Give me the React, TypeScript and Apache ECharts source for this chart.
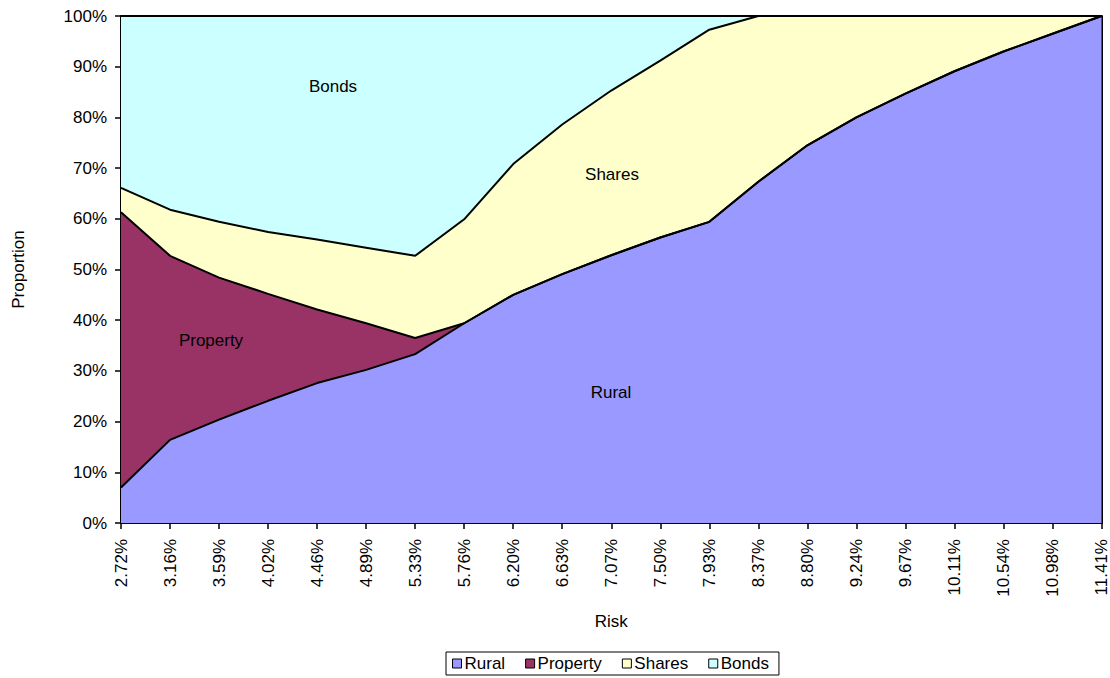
import React, { useEffect, useRef } from "react";
import * as echarts from "echarts";

const categories = ["2.72%", "3.16%", "3.59%", "4.02%", "4.46%", "4.89%", "5.33%", "5.76%", "6.20%", "6.63%", "7.07%", "7.50%", "7.93%", "8.37%", "8.80%", "9.24%", "9.67%", "10.11%", "10.54%", "10.98%", "11.41%"];
const rural = [7.0, 16.4, 20.4, 24.1, 27.6, 30.2, 33.3, 39.4, 45.0, 49.1, 52.8, 56.3, 59.4, 67.3, 74.5, 80.0, 84.7, 89.1, 93.0, 96.5, 100];
const property = [54.3, 36.3, 28.0, 21.1, 14.5, 9.2, 3.2, 0, 0, 0, 0, 0, 0, 0, 0, 0, 0, 0, 0, 0, 0];
const shares = [4.8, 9.1, 11.0, 12.2, 13.8, 14.9, 16.2, 20.5, 25.8, 29.5, 32.5, 34.9, 37.9, 32.7, 25.5, 20.0, 15.3, 10.9, 7.0, 3.5, 0];
const bonds = [33.9, 38.2, 40.6, 42.6, 44.1, 45.7, 47.3, 40.1, 29.2, 21.4, 14.7, 8.8, 2.7, 0, 0, 0, 0, 0, 0, 0, 0];
const yTicks = [0, 10, 20, 30, 40, 50, 60, 70, 80, 90, 100];
const seriesNames = ["Rural", "Property", "Shares", "Bonds"];

const FONT = "'Liberation Sans', Arial, sans-serif";
const FS = 17;
const COLORS: Record<string, string> = { Rural: "#9999FF", Property: "#993366", Shares: "#FFFFCC", Bonds: "#CCFFFF" };

export default function App() {
  const ref = useRef<HTMLDivElement>(null);
  useEffect(() => {
    if (!ref.current) return;
    const chart = echarts.init(ref.current, null, { renderer: "svg" });
    const mk = (name: string, data: number[]) => ({
      name,
      type: "line",
      stack: "total",
      data,
      symbol: "none",
      color: COLORS[name],
      lineStyle: { color: "#000", width: 2 },
      areaStyle: { color: COLORS[name], opacity: 1 },
      itemStyle: { color: COLORS[name], borderColor: "#000", borderWidth: 1 },
    });
    const areaLabel = (text: string, x: number, y: number) => ({
      type: "text",
      x,
      y,
      z: 100,
      style: { text, font: `${FS}px ${FONT}`, fill: "#000", align: "center", verticalAlign: "middle" },
    });
    chart.setOption({
      animation: false,
      textStyle: { fontFamily: FONT },
      grid: { left: 121, right: 6, top: 16, bottom: 155, containLabel: false },
      legend: {
        bottom: 3,
        left: 446,
        itemWidth: 9,
        itemHeight: 9,
        itemGap: 20,
        icon: "rect",
        borderColor: "#000",
        borderWidth: 1,
        padding: [3, 10, 3, 6],
        itemStyle: { borderColor: "#000", borderWidth: 1 },
        textStyle: { fontFamily: FONT, fontSize: FS, color: "#000", padding: [0, 0, 0, -2] },
        data: seriesNames,
      },
      xAxis: {
        type: "category",
        data: categories,
        boundaryGap: false,
        name: "Risk",
        nameLocation: "middle",
        nameGap: 90,
        nameTextStyle: { fontFamily: FONT, fontSize: FS, color: "#000" },
        axisLine: { lineStyle: { color: "#000", width: 2 } },
        axisTick: { alignWithLabel: true, length: 6, lineStyle: { color: "#000", width: 1.5 } },
        axisLabel: { rotate: 90, interval: 0, fontFamily: FONT, fontSize: FS, color: "#000", margin: 16 },
        splitLine: { show: false },
      },
      yAxis: [
        {
          type: "value",
          min: yTicks[0],
          max: yTicks[yTicks.length - 1],
          interval: 10,
          name: "Proportion",
          nameLocation: "middle",
          nameGap: 94,
          nameRotate: 90,
          nameTextStyle: { fontFamily: FONT, fontSize: FS, color: "#000" },
          axisLine: { show: true, lineStyle: { color: "#000", width: 2 } },
          axisTick: { show: true, length: 6, lineStyle: { color: "#000", width: 1.5 } },
          axisLabel: { formatter: "{value}%", fontFamily: FONT, fontSize: FS, color: "#000", margin: 14 },
          splitLine: { show: false },
        },
        {
          type: "value",
          position: "right",
          min: 0,
          max: 100,
          axisLine: { show: true, lineStyle: { color: "#000", width: 2 } },
          axisTick: { show: false },
          axisLabel: { show: false },
          splitLine: { show: false },
        },
      ],
      series: [mk("Rural", rural), mk("Property", property), mk("Shares", shares), mk("Bonds", bonds)],
      graphic: [
        areaLabel("Bonds", 333, 86),
        areaLabel("Shares", 612, 174),
        areaLabel("Property", 211, 340),
        areaLabel("Rural", 611, 392),
      ],
    });
    return () => chart.dispose();
  }, []);
  return (
    <div
      ref={ref}
      style={{ position: "fixed", left: 0, top: 0, width: 1110, height: 678, background: "#fff" }}
    />
  );
}
